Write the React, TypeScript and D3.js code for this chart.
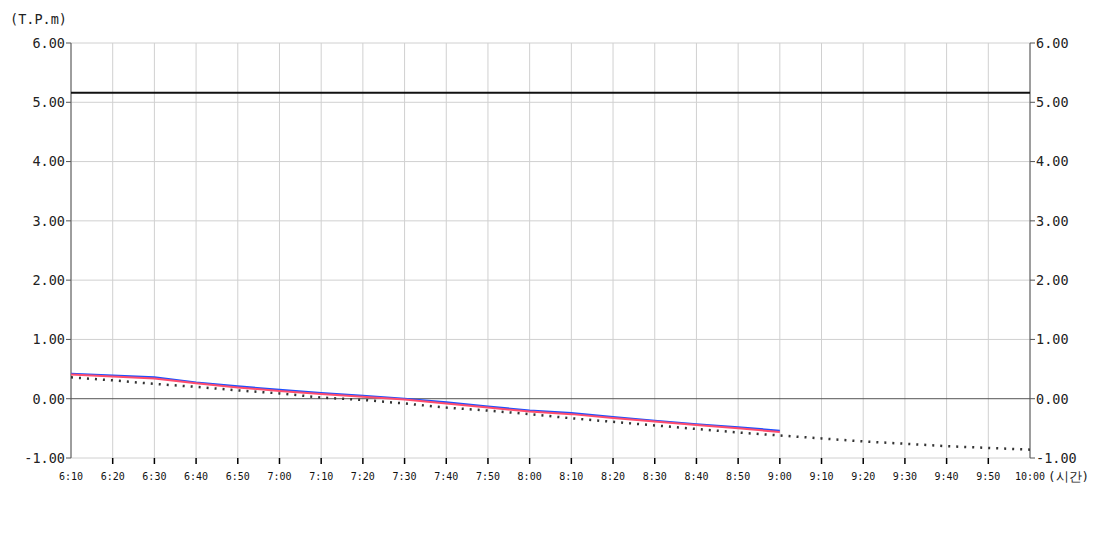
import React from "react";
import * as d3 from "d3";

const timeLabels = ["6:10","6:20","6:30","6:40","6:50","7:00","7:10","7:20","7:30","7:40","7:50","8:00","8:10","8:20","8:30","8:40","8:50","9:00","9:10","9:20","9:30","9:40","9:50","10:00"];
const yTicks = [-1, 0, 1, 2, 3, 4, 5, 6];
const limitValue = 5.16;
const blueSeries = [0.42, 0.39, 0.36, 0.275, 0.21, 0.15, 0.096, 0.05, 0.0, -0.06, -0.13, -0.2, -0.24, -0.31, -0.37, -0.43, -0.48, -0.54];
const redSeries = [0.41, 0.375, 0.34, 0.26, 0.19, 0.13, 0.08, 0.035, -0.015, -0.08, -0.15, -0.215, -0.26, -0.325, -0.385, -0.445, -0.5, -0.56];
const dottedSeries = [0.36, 0.31, 0.25, 0.2, 0.14, 0.09, 0.02, -0.02, -0.08, -0.15, -0.2, -0.26, -0.33, -0.39, -0.45, -0.51, -0.57, -0.62, -0.67, -0.72, -0.76, -0.8, -0.83, -0.86];

const W = 1100, H = 550;
const M = { left: 71, right: 1030, top: 43, bottom: 458 };
const FONT = "'DejaVu Sans Mono', monospace";

export default function App() {
  const x = d3.scaleLinear().domain([0, timeLabels.length - 1]).range([M.left, M.right]);
  const y = d3.scaleLinear().domain([-1, 6]).range([M.bottom, M.top]);
  const line = d3.line<number>().x((_, i) => x(i)).y((d) => y(d));

  return (
    <svg width={W} height={H} style={{ position: "absolute", left: 0, top: 0 }} fontFamily={FONT}>
      <rect width={W} height={H} fill="#fff" />
      {timeLabels.map((_, i) => (
        <line key={"vg" + i} x1={x(i)} x2={x(i)} y1={M.top} y2={M.bottom} stroke="#d0d0d0" strokeWidth={1} />
      ))}
      {yTicks.map((t) => (
        <line key={"hg" + t} x1={M.left} x2={M.right} y1={y(t)} y2={y(t)} stroke={t === 0 ? "#555" : "#d0d0d0"} strokeWidth={1} />
      ))}
      <line x1={M.left} x2={M.left} y1={M.top} y2={M.bottom} stroke="#555" />
      <line x1={M.right} x2={M.right} y1={M.top} y2={M.bottom} stroke="#555" />
      {yTicks.map((t) => (
        <g key={"yt" + t}>
          <line x1={M.left - 5} x2={M.left} y1={y(t)} y2={y(t)} stroke="#555" />
          <line x1={M.right} x2={M.right + 5} y1={y(t)} y2={y(t)} stroke="#555" />
          <text x={M.left - 6} y={y(t)} dy="0.36em" textAnchor="end" fontSize={13.5} fill="#222">{t.toFixed(2)}</text>
          <text x={M.right + 6} y={y(t)} dy="0.36em" textAnchor="start" fontSize={13.5} fill="#222">{t.toFixed(2)}</text>
        </g>
      ))}
      {timeLabels.map((lab, i) => (
        <g key={"xt" + i}>
          {i > 0 && i < timeLabels.length - 1 && (
            <line x1={x(i)} x2={x(i)} y1={M.bottom} y2={M.bottom + 6} stroke="#000" strokeWidth={1.5} />
          )}
          <text x={x(i)} y={M.bottom + 22} textAnchor="middle" fontSize={10} fill="#111">{lab}</text>
        </g>
      ))}
      <text x={10} y={24} fontSize={13.5} fill="#222">(T.P.m)</text>
      <text x={1048} y={481} fontSize={12.5} fill="#222">(시간)</text>
      <line x1={M.left} x2={M.right} y1={y(limitValue)} y2={y(limitValue)} stroke="#111" strokeWidth={2} />
      <path d={line(dottedSeries) || ""} fill="none" stroke="#333" strokeWidth={2.5} strokeDasharray="2 6" />
      <path d={line(blueSeries) || ""} fill="none" stroke="#1f4fff" strokeWidth={2} />
      <path d={line(redSeries) || ""} fill="none" stroke="#ff4d6d" strokeWidth={2} />
    </svg>
  );
}
